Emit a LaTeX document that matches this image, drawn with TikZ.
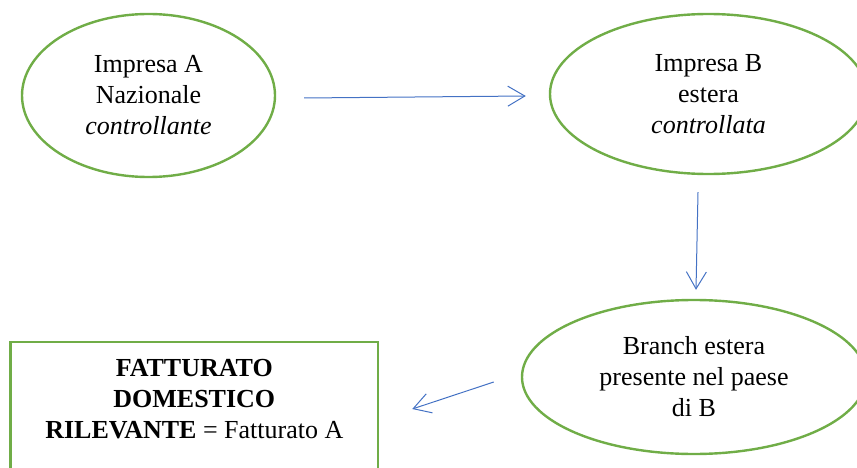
\documentclass[tikz,border=0pt]{standalone}
\usepackage{fontspec}
\setmainfont{Liberation Serif}
\usetikzlibrary{arrows.meta,shapes.geometric}

\definecolor{boxgreen}{HTML}{70AD47}
\definecolor{linkblue}{HTML}{4472C4}

\begin{document}
\begin{tikzpicture}[x=1pt,y=1pt,
    txt/.style={font=\fontsize{26}{31}\selectfont,align=center,inner sep=0pt},
    entity/.style={txt,ellipse,draw=boxgreen,line width=2.4pt},
    total/.style={txt,rectangle,draw=boxgreen,line width=2.4pt},
    link/.style={draw=linkblue,line width=1pt,-{Straight Barb[length=17pt,width=20pt,line width=1pt]}}]
  % page frame
  \useasboundingbox (0,0) rectangle (857,467);

  % the three companies
  \node[entity,minimum width=253,minimum height=163] (impA) at (148.5,371.5)
    {Impresa A\\Nazionale\\\textit{controllante}};
  \node[entity,minimum width=317,minimum height=160] (impB) at (708.5,373)
    {Impresa B\\estera\\\textit{controllata}};
  \node[entity,minimum width=344,minimum height=154] (branch) at (694,90)
    {Branch estera\\presente nel paese\\di B};

  % result box (runs past the lower edge)
  \node[total,anchor=north,minimum width=367.5,inner ysep=17pt,text depth=60pt] (fatt) at (194.3,126)
    {\textbf{FATTURATO}\\\textbf{DOMESTICO}\\\textbf{RILEVANTE} = Fatturato A};

  % arrows
  \draw[link] ([shift={(28,-2.5)}]impA.east) -- ([shift={(-23,-2)}]impB.west);
  \draw[link] ([shift={(-10.5,-17)}]impB.south) -- ([shift={(2,9)}]branch.north);
  \draw[link] ([shift={(-27,-5)}]branch.west) -- ([shift={(33,-68)}]fatt.north east);
\end{tikzpicture}
\end{document}
